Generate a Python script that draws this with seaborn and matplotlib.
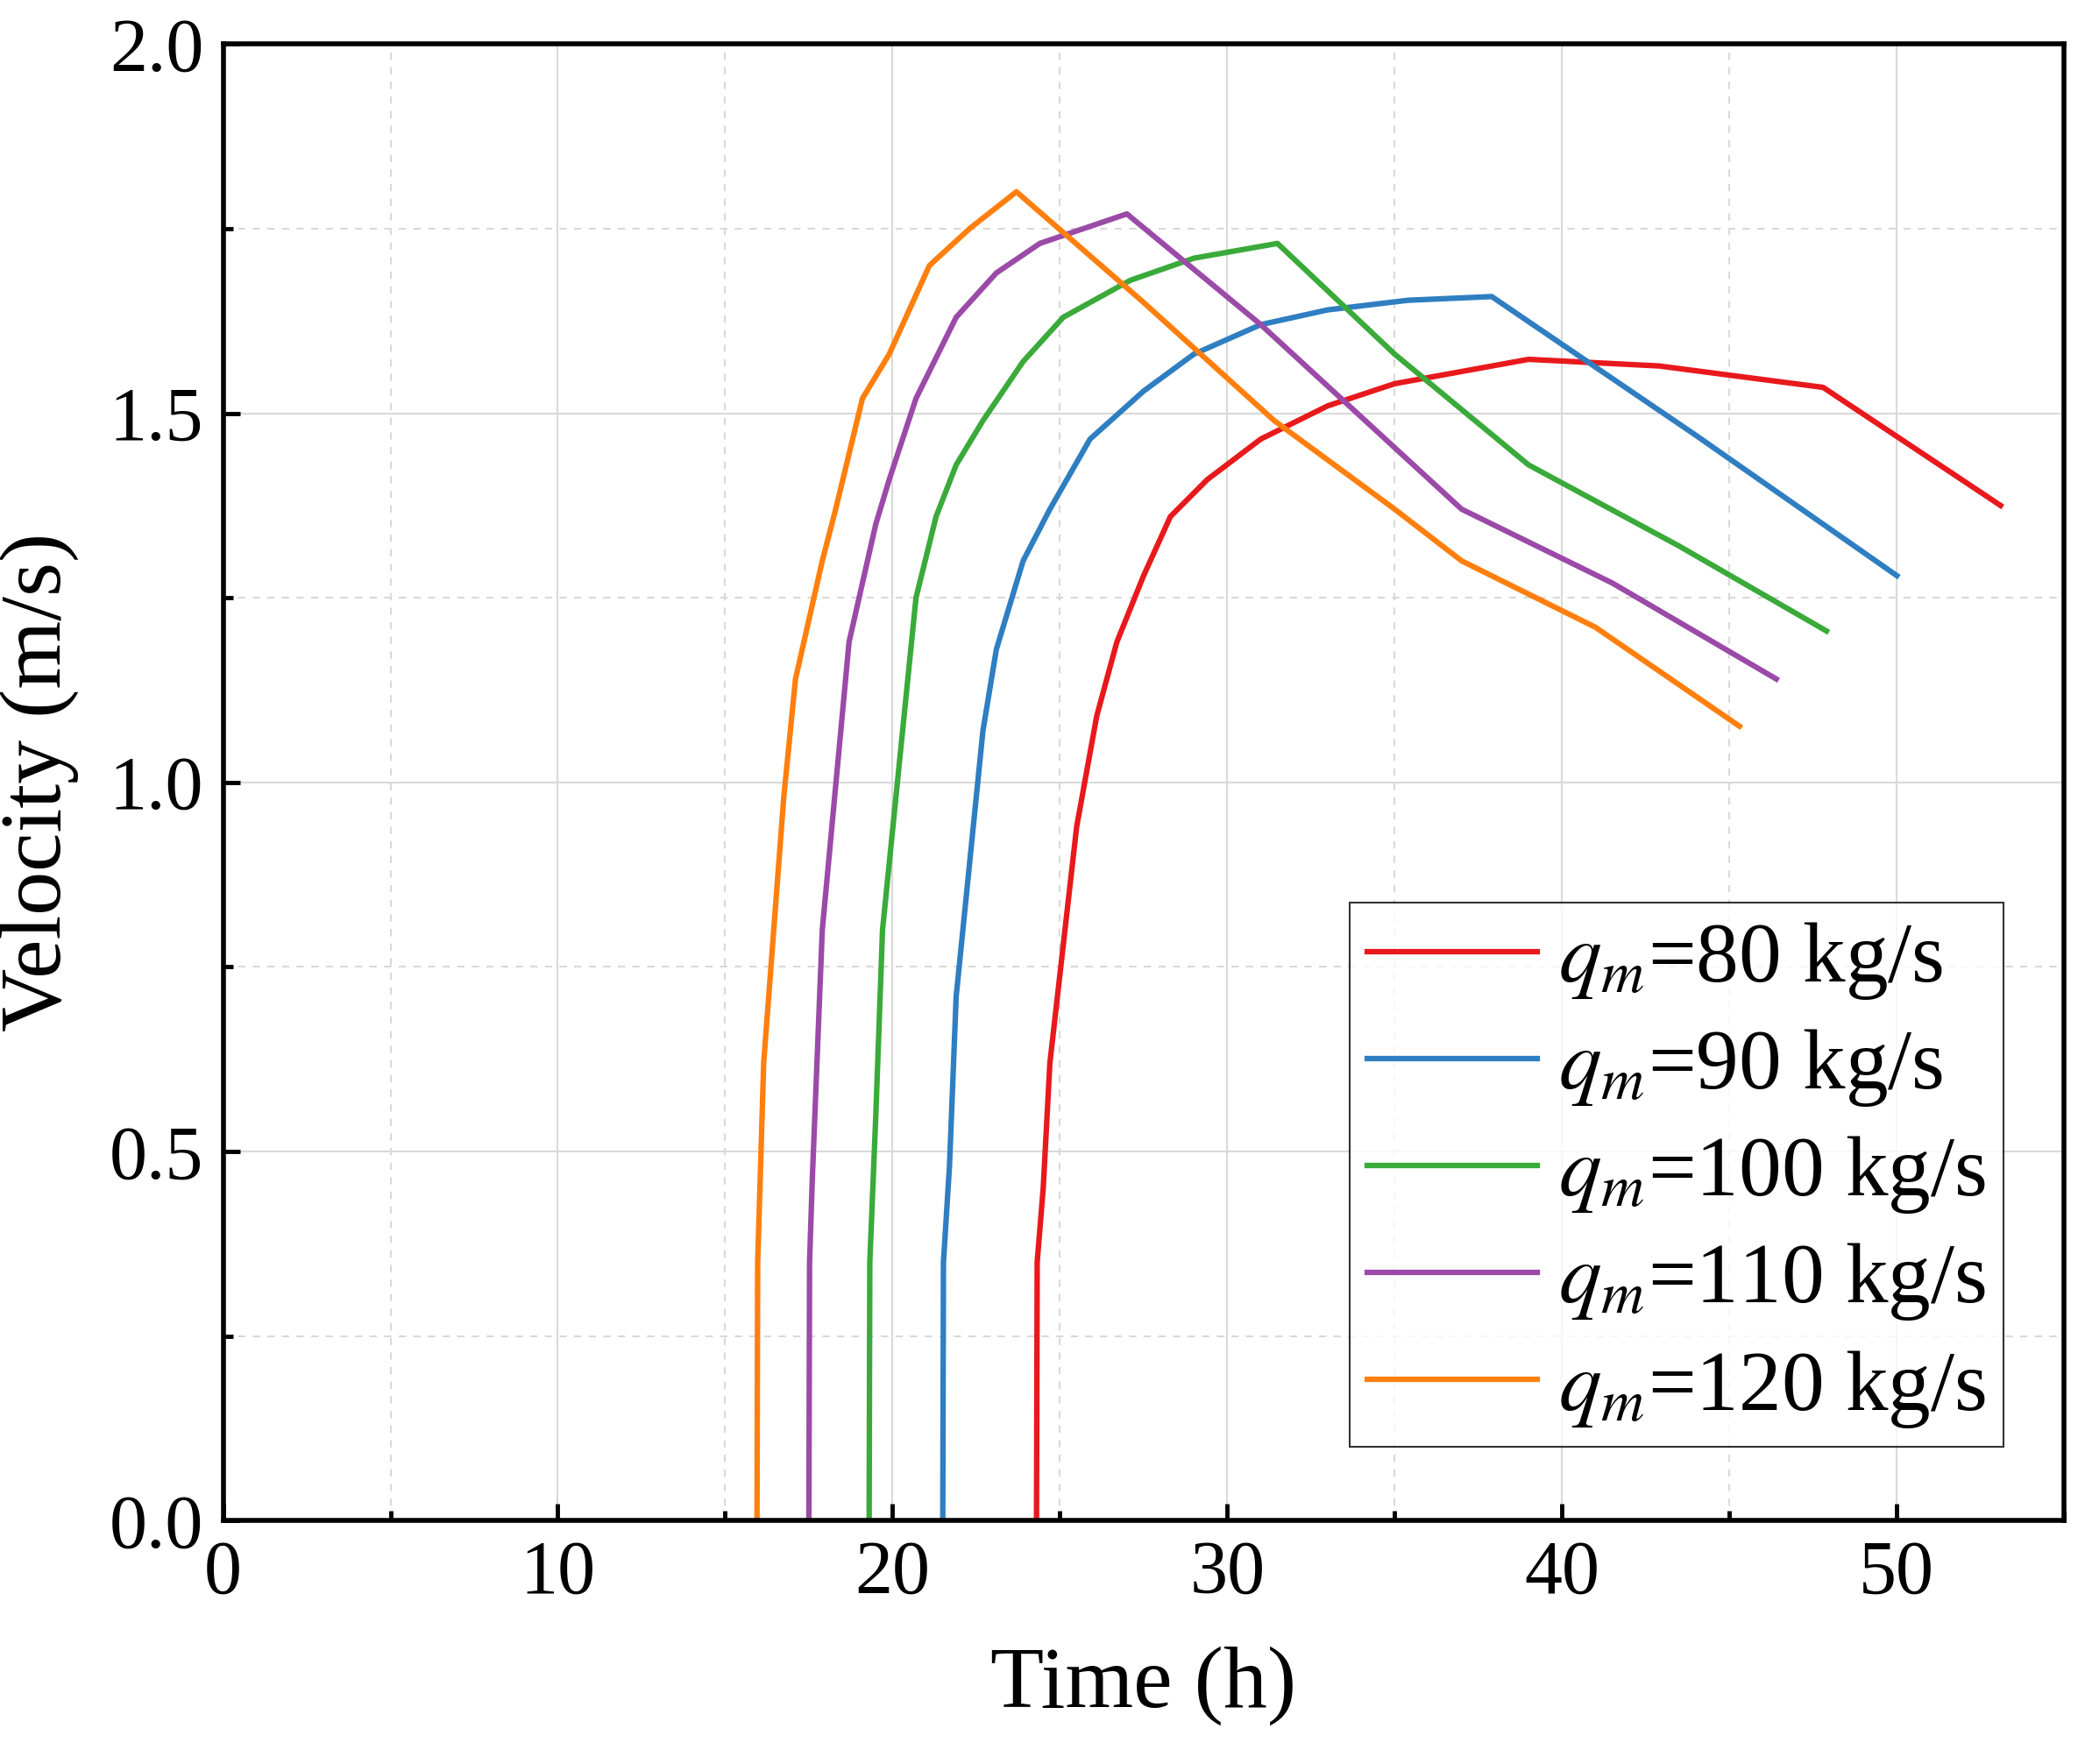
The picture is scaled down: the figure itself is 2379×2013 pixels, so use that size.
import matplotlib
matplotlib.use("Agg")
import matplotlib.pyplot as plt
import seaborn as sns
import pandas as pd
from matplotlib.ticker import MultipleLocator

plt.rcParams["font.family"] = "Liberation Serif"
plt.rcParams["mathtext.fontset"] = "stix"

labels = ["$q_m$=80 kg/s", "$q_m$=90 kg/s", "$q_m$=100 kg/s", "$q_m$=110 kg/s", "$q_m$=120 kg/s"]
colors = ["#e8191c", "#2f7ec1", "#3aaa3a", "#9b4aa8", "#ff7f0e"]

t80 = [24.3, 24.32, 24.5, 24.7, 25.5, 26.1, 26.7, 27.5, 28.3, 29.4, 31.0, 33.0, 35.0, 39.0, 42.9, 47.8, 53.1]
v80 = [0.0, 0.35, 0.45, 0.62, 0.94, 1.09, 1.19, 1.28, 1.36, 1.41, 1.465, 1.51, 1.54, 1.573, 1.564, 1.535, 1.375]
t90 = [21.5, 21.52, 21.7, 21.9, 22.7, 23.1, 23.9, 24.7, 25.9, 27.5, 29.0, 31.0, 33.0, 35.4, 37.9, 44.0, 50.0]
v90 = [0.0, 0.35, 0.48, 0.71, 1.07, 1.18, 1.30, 1.37, 1.465, 1.53, 1.58, 1.62, 1.64, 1.653, 1.658, 1.47, 1.28]
t100 = [19.3, 19.32, 19.5, 19.7, 20.7, 21.3, 21.9, 22.7, 23.9, 25.1, 27.1, 29.0, 31.5, 35.0, 39.0, 43.5, 47.9]
v100 = [0.0, 0.35, 0.55, 0.80, 1.25, 1.36, 1.43, 1.49, 1.57, 1.63, 1.68, 1.71, 1.73, 1.58, 1.43, 1.32, 1.205]
t110 = [17.5, 17.52, 17.6, 17.9, 18.7, 19.5, 19.9, 20.7, 21.9, 23.1, 24.4, 27.0, 31.0, 37.0, 41.5, 46.4]
v110 = [0.0, 0.35, 0.46, 0.80, 1.19, 1.35, 1.41, 1.52, 1.63, 1.69, 1.73, 1.77, 1.62, 1.37, 1.27, 1.14]
t120 = [15.95, 15.97, 16.15, 16.75, 17.1, 17.9, 18.3, 19.1, 19.9, 21.1, 22.3, 23.7, 27.5, 31.4, 35.0, 37.0, 41.0, 45.3]
v120 = [0.0, 0.35, 0.62, 0.98, 1.14, 1.30, 1.37, 1.52, 1.58, 1.70, 1.75, 1.80, 1.65, 1.49, 1.37, 1.30, 1.21, 1.076]

frames = []
for lab, t, v in zip(labels, [t80, t90, t100, t110, t120], [v80, v90, v100, v110, v120]):
    frames.append(pd.DataFrame({"Time": t, "Velocity": v, "series": lab}))
df = pd.concat(frames, ignore_index=True)

fig = plt.figure(figsize=(23.79, 20.13), dpi=100)
ax = fig.add_axes([0.107, 0.138, 0.883, 0.837])
sns.lineplot(data=df, x="Time", y="Velocity", hue="series", hue_order=labels,
             palette=colors, sort=False, estimator=None, units="series",
             linewidth=4.5, ax=ax)

ax.set_xlim(0, 55)
ax.set_ylim(0, 2.0)
ax.xaxis.set_major_locator(MultipleLocator(10))
ax.xaxis.set_minor_locator(MultipleLocator(5))
ax.yaxis.set_major_locator(MultipleLocator(0.5))
ax.yaxis.set_minor_locator(MultipleLocator(0.25))
ax.yaxis.set_major_formatter(matplotlib.ticker.FormatStrFormatter("%.1f"))
ax.grid(which="major", color="#d9d9d9", linewidth=1.5)
ax.grid(which="minor", color="#d9d9d9", linewidth=1.5, linestyle=(0, (4, 4)))
ax.set_axisbelow(True)
ax.tick_params(which="both", direction="in", labelsize=62, width=3.5)
ax.tick_params(which="major", length=14, pad=16)
ax.tick_params(which="minor", length=8)
for s in ax.spines.values():
    s.set_linewidth(4)
ax.set_xlabel("Time (h)", fontsize=72, labelpad=30)
ax.set_ylabel("Velocity (m/s)", fontsize=72, labelpad=25)

leg = ax.legend(loc="lower left", bbox_to_anchor=(0.612, 0.05), fontsize=70,
                frameon=True, fancybox=False, edgecolor="black", handlelength=2.0,
                borderpad=0.2, labelspacing=0.3, handletextpad=0.25, borderaxespad=0)
leg.get_frame().set_linewidth(1.5)
for line in leg.get_lines():
    line.set_linewidth(4.5)

fig.savefig("out.png", dpi=100)
